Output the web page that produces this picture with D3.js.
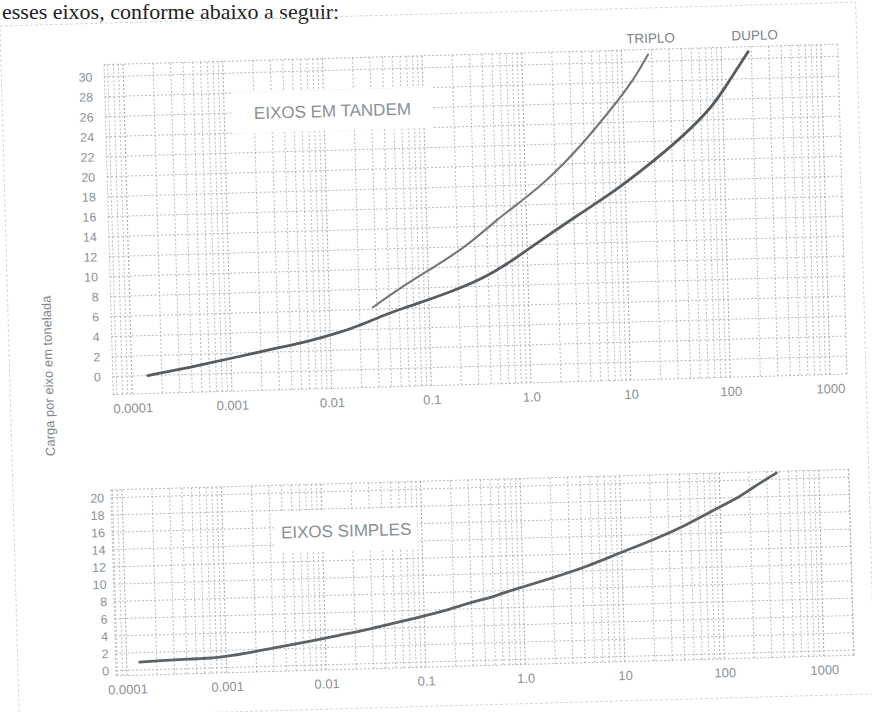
<!DOCTYPE html>
<html>
<head>
<meta charset="utf-8">
<script src="https://cdnjs.cloudflare.com/ajax/libs/d3/7.8.5/d3.min.js"></script>
<style>
  body { margin: 0; background: #fff; }
  svg { display: block; }
</style>
</head>
<body>
<div id="chart"></div>
<script>
// ---- values ----
var factorTicks = [0.0001, 0.001, 0.01, 0.1, 1, 10, 100, 1000];
var factorLabels = ["0.0001", "0.001", "0.01", "0.1", "1.0", "10", "100", "1000"];
var tandemTicks = [0, 2, 4, 6, 8, 10, 12, 14, 16, 18, 20, 22, 24, 26, 28, 30];
var simpleTicks = [0, 2, 4, 6, 8, 10, 12, 14, 16, 18, 20];

// tandem, double axle
var duploFactor = [0.000145, 0.000385, 0.00115, 0.0029, 0.0058, 0.0126, 0.0187, 0.040, 0.069, 0.153, 0.331, 0.714, 0.99, 3.47, 7.5, 16.6, 36, 80, 119, 186];
var duploLoad = [0, 0.7, 1.6, 2.4, 2.9, 3.8, 4.3, 5.6, 6.3, 7.4, 8.6, 10.5, 11.5, 15.0, 17.0, 19.5, 22.1, 25.3, 27.9, 30.7];
// tandem, triple axle
var triploFactor = [0.0273, 0.0518, 0.104, 0.238, 0.503, 0.935, 1.66, 3.63, 8.0, 13.0, 18.4];
var triploLoad = [6.2, 8.05, 9.8, 11.9, 14.6, 16.5, 18.4, 21.65, 25.6, 28.2, 30.7];
// single axle
var simplesFactor = [0.000135, 0.000215, 0.00043, 0.00081, 0.00162, 0.00296, 0.0065, 0.0141, 0.0263, 0.0667, 0.144, 0.309, 0.457, 0.618, 0.914, 1.96, 4.33, 9.58, 20.7, 45.9, 100, 149, 212, 374];
var simplesLoad = [0.9, 1.0, 1.1, 1.15, 1.6, 2.1, 2.7, 3.4, 3.9, 4.9, 5.7, 6.8, 7.2, 7.7, 8.24, 9.3, 10.45, 12.0, 13.35, 15.0, 17.0, 17.9, 19.05, 20.7];

var seriesNames = ["TRIPLO", "DUPLO"];
var panelTitles = ["EIXOS EM TANDEM", "EIXOS SIMPLES"];
var yTitle = "Carga por eixo em tonelada";
var pageText = "esses eixos, conforme abaixo a seguir:";

var width = 872;
var height = 712;
var labelColor = "#8a9298";
var gridColor = "#a3aab0";

var svg = d3
  .select("#chart")
  .append("svg")
  .attr("width", width)
  .attr("height", height)
  .style("background", "#fff");

// text of the page above the scanned figure
svg
  .append("text")
  .attr("x", 2)
  .attr("y", 19)
  .attr("font-family", "Liberation Serif, serif")
  .attr("font-size", 22)
  .attr("fill", "#222")
  .text(pageText);

// the scan is slightly tilted
var page = svg.append("g").attr("transform", "rotate(-1.6,436,380)");

page
  .append("rect")
  .attr("x", 10)
  .attr("y", 14)
  .attr("width", 856)
  .attr("height", 692)
  .attr("fill", "none")
  .attr("stroke", "#d4d8db")
  .attr("stroke-width", 1)
  .attr("stroke-dasharray", "3,2");

function pairs(xs, ys) {
  return xs.map(function(d, i) {
    return [d, ys[i]];
  });
}

function drawPanel(cfg) {
  var x = d3.scaleLog().domain([1e-4, 1e3]).range([cfg.left, cfg.right]);
  var y = d3.scaleLinear().domain([0, cfg.yTicks[cfg.yTicks.length - 1]]).range([cfg.y0, cfg.yTop]);
  var g = page.append("g");

  var gx = x.copy().domain([x.invert(cfg.gridLeft), x.invert(cfg.gridRight)]).range([cfg.gridLeft, cfg.gridRight]);
  var yLo = y(cfg.gridMin);
  var yHi = y(cfg.gridMax);

  // ********** GRID ********** //
  var vLines = gx.ticks(60).concat([gx.domain()[0], gx.domain()[1]]);
  g.append("g")
    .selectAll("line")
    .data(vLines)
    .enter()
    .append("line")
    .attr("x1", function(d) { return gx(d); })
    .attr("x2", function(d) { return gx(d); })
    .attr("y1", yLo)
    .attr("y2", yHi)
    .attr("stroke", gridColor)
    .attr("stroke-width", function(d) {
      return Math.abs(Math.log10(d) - Math.round(Math.log10(d))) < 1e-6 ? 1.1 : 0.8;
    })
    .attr("stroke-dasharray", "2,2");

  var hLines = cfg.yTicks.concat([cfg.gridMin, cfg.gridMax]);
  g.append("g")
    .selectAll("line")
    .data(hLines)
    .enter()
    .append("line")
    .attr("x1", cfg.gridLeft)
    .attr("x2", cfg.gridRight)
    .attr("y1", function(d) { return y(d); })
    .attr("y2", function(d) { return y(d); })
    .attr("stroke", gridColor)
    .attr("stroke-width", 0.8)
    .attr("stroke-dasharray", "2,2");

  // white patch behind the panel title
  var title = g
    .append("text")
    .attr("x", cfg.titleX)
    .attr("y", cfg.titleY)
    .attr("text-anchor", "middle")
    .attr("font-family", "Liberation Sans, Arial, sans-serif")
    .attr("font-size", 17)
    .attr("fill", "#8a9095")
    .text(cfg.title);
  var bb = title.node().getBBox();
  g.insert("rect", "text")
    .attr("x", bb.x - cfg.padX)
    .attr("y", bb.y - 12)
    .attr("width", bb.width + 2 * cfg.padX)
    .attr("height", bb.height + 22)
    .attr("fill", "#fff");

  // ********** AXES ********** //
  var yAxis = d3.axisLeft(y).tickValues(cfg.yTicks).tickSize(0).tickPadding(0);
  var ya = g.append("g")
    .attr("transform", "translate(" + cfg.yLabelX + ",0)")
    .call(yAxis);
  ya.select(".domain").remove();
  ya.selectAll("text")
    .attr("font-family", "Liberation Sans, Arial, sans-serif")
    .attr("font-size", 12.5)
    .attr("fill", labelColor);

  var xAxis = d3
    .axisBottom(x)
    .tickValues(factorTicks)
    .tickFormat(function(d, i) { return factorLabels[i]; })
    .tickSize(0)
    .tickPadding(0);
  var xa = g.append("g")
    .attr("transform", "translate(0," + cfg.xLabelY + ")")
    .call(xAxis);
  xa.select(".domain").remove();
  xa.selectAll("text")
    .attr("font-family", "Liberation Sans, Arial, sans-serif")
    .attr("font-size", 13)
    .attr("fill", labelColor);

  // ********** CURVES ********** //
  var line = d3
    .line()
    .x(function(d) { return x(d[0]); })
    .y(function(d) { return y(d[1]); })
    .curve(d3.curveBasis);

  cfg.series.forEach(function(s) {
    g.append("path")
      .attr("d", line(s.points))
      .attr("fill", "none")
      .attr("stroke", s.color)
      .attr("stroke-width", s.width)
      .attr("stroke-linecap", "round");
    if (s.name) {
      var last = s.points[s.points.length - 1];
      g.append("text")
        .attr("x", x(last[0]) + s.dx)
        .attr("y", cfg.nameY)
        .attr("text-anchor", "middle")
        .attr("font-family", "Liberation Sans, Arial, sans-serif")
        .attr("font-size", 13.5)
        .attr("fill", "#7c8388")
        .text(s.name);
    }
  });
}

// tandem axles (upper panel)
drawPanel({
  left: 132, right: 830, gridLeft: 113, gridRight: 847,
  y0: 367.5, yTop: 67.5, gridMin: -1.8, gridMax: 31.2,
  yTicks: tandemTicks, yLabelX: 101, xLabelY: 395,
  title: panelTitles[0], titleX: 340, titleY: 114, padX: 22,
  nameY: 49,
  series: [
    { name: seriesNames[0], points: pairs(triploFactor, triploLoad), color: "#73787d", width: 2.1, dx: 3 },
    { name: seriesNames[1], points: pairs(duploFactor, duploLoad), color: "#575c61", width: 2.8, dx: 7 }
  ]
});

// single axles (lower panel)
drawPanel({
  left: 119, right: 816, gridLeft: 108, gridRight: 846,
  y0: 661.6, yTop: 488.6, gridMin: -0.6, gridMax: 20.9,
  yTicks: simpleTicks, yLabelX: 101, xLabelY: 676,
  title: panelTitles[1], titleX: 342, titleY: 534, padX: 6,
  nameY: 0,
  series: [
    { name: null, points: pairs(simplesFactor, simplesLoad), color: "#5d6266", width: 2.8, dx: 0 }
  ]
});

// shared y axis title
page
  .append("text")
  .attr("transform", "translate(53,365) rotate(-90)")
  .attr("text-anchor", "middle")
  .attr("font-family", "Liberation Sans, Arial, sans-serif")
  .attr("font-size", 13)
  .attr("fill", "#7f868b")
  .text(yTitle);
</script>
</body>
</html>
